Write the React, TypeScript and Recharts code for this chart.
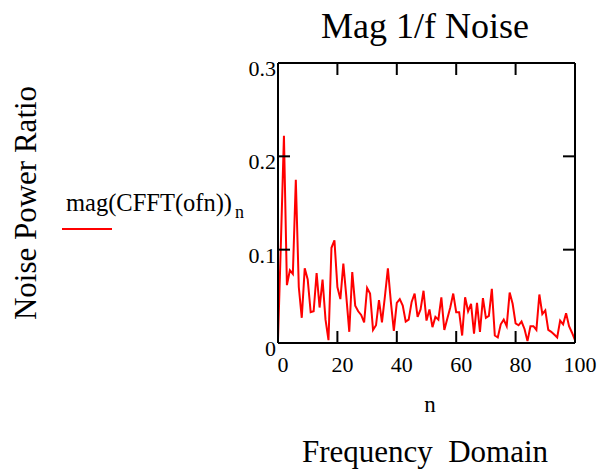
import React from "react";
import { LineChart, Line, XAxis, YAxis } from "recharts";

const values: number[] = [
  0.003, 0.11, 0.222, 0.062, 0.078, 0.074, 0.175, 0.06, 0.027, 0.08,
  0.068, 0.033, 0.034, 0.075, 0.038, 0.068, 0.025, 0.003, 0.102, 0.11,
  0.06, 0.047, 0.085, 0.05, 0.012, 0.076, 0.04, 0.034, 0.03, 0.022,
  0.059, 0.053, 0.014, 0.019, 0.046, 0.022, 0.05, 0.08, 0.044, 0.013,
  0.043, 0.047, 0.04, 0.023, 0.025, 0.044, 0.053, 0.028, 0.036, 0.056,
  0.024, 0.036, 0.017, 0.028, 0.025, 0.049, 0.014, 0.026, 0.038, 0.053,
  0.033, 0.033, 0.008, 0.049, 0.034, 0.042, 0.01, 0.043, 0.012, 0.048,
  0.027, 0.029, 0.058, 0.008, 0.006, 0.02, 0.025, 0.018, 0.054, 0.042,
  0.021, 0.019, 0.023, 0.015, 0.002, 0.018, 0.018, 0.014, 0.052, 0.031,
  0.035, 0.014, 0.012, 0.009, 0.006, 0.024, 0.02, 0.032, 0.018, 0.011,
  0.003,
];

const xTicks = [0, 20, 40, 60, 80, 100];
const xInnerTicks = [20, 40, 60, 80];
const yTicks = [0, 0.1, 0.2, 0.3];
const yInnerTicks = [0.1, 0.2];
const yTickLabels = ["0", "0.1", "0.2", "0.3"];

const title = "Mag 1/f Noise";
const yTitle = "Noise Power Ratio";
const xVarLabel = "n";
const xTitle = "Frequency  Domain";
const legendText = "mag(CFFT(ofn))";
const legendSub = "n";

const data = values.map((v, i) => ({ n: i, v }));

const FONT = "Liberation Serif";
const fs = (size: number) => ({ fontFamily: FONT, fontSize: size });

const Nothing = () => <g />;

const XTick = (props: any) => {
  const { x, y, payload } = props;
  return (
    <text x={x + 5} y={y + 29} textAnchor="middle" style={fs(22)} fill="#000">
      {String(payload.value)}
    </text>
  );
};

const YTick = (props: any) => {
  const { x, y, payload } = props;
  const idx = yTicks.indexOf(payload.value);
  const label = idx >= 0 ? yTickLabels[idx] : String(payload.value);
  return (
    <text x={x - 2} y={y + 13} textAnchor="end" style={fs(22)} fill="#000">
      {label}
    </text>
  );
};

export default function App() {
  const axisLine = { stroke: "#000", strokeWidth: 2 };
  const tickLine = { stroke: "#000", strokeWidth: 2 };
  return (
    <div style={{ position: "absolute", left: 0, top: 0, width: 602, height: 475, background: "#fff", fontFamily: FONT }}>
      <LineChart
        width={602}
        height={475}
        data={data}
        margin={{ top: 63, right: 27, bottom: 102, left: 238 }}
      >
        <XAxis
          xAxisId="b"
          dataKey="n"
          type="number"
          domain={[0, 100]}
          ticks={xTicks}
          interval={0}
          allowDataOverflow
          height={30}
          tickSize={0}
          tickMargin={0}
          tickLine={false}
          axisLine={axisLine}
          tick={<XTick />}
        />
        <XAxis
          xAxisId="bm"
          dataKey="n"
          type="number"
          orientation="bottom"
          mirror
          domain={[0, 100]}
          ticks={xInnerTicks}
          interval={0}
          allowDataOverflow
          height={12}
          tickSize={12}
          tickLine={tickLine}
          axisLine={false}
          tick={<Nothing />}
        />
        <XAxis
          xAxisId="t"
          dataKey="n"
          type="number"
          orientation="top"
          mirror
          domain={[0, 100]}
          ticks={xInnerTicks}
          interval={0}
          allowDataOverflow
          height={12}
          tickSize={12}
          tickLine={tickLine}
          axisLine={axisLine}
          tick={<Nothing />}
        />
        <YAxis
          yAxisId="l"
          type="number"
          domain={[0, 0.3]}
          ticks={yTicks}
          interval={0}
          allowDataOverflow
          width={40}
          tickSize={0}
          tickMargin={0}
          tickLine={false}
          axisLine={axisLine}
          tick={<YTick />}
        />
        <YAxis
          yAxisId="lm"
          type="number"
          orientation="left"
          mirror
          domain={[0, 0.3]}
          ticks={yInnerTicks}
          interval={0}
          allowDataOverflow
          width={12}
          tickSize={12}
          tickLine={tickLine}
          axisLine={false}
          tick={<Nothing />}
        />
        <YAxis
          yAxisId="r"
          type="number"
          orientation="right"
          mirror
          domain={[0, 0.3]}
          ticks={yInnerTicks}
          interval={0}
          allowDataOverflow
          width={12}
          tickSize={12}
          tickLine={tickLine}
          axisLine={axisLine}
          tick={<Nothing />}
        />
        <Line
          xAxisId="b"
          yAxisId="l"
          type="linear"
          dataKey="v"
          stroke="#ff0000"
          strokeWidth={2}
          dot={false}
          activeDot={false}
          isAnimationActive={false}
        />
      </LineChart>
      <svg
        width={602}
        height={475}
        style={{ position: "absolute", left: 0, top: 0, pointerEvents: "none" }}
      >
        <text x={425} y={38} textAnchor="middle" style={fs(36)} fill="#000">
          {title}
        </text>
        <text
          x={0}
          y={0}
          transform="translate(36,203) rotate(-90)"
          textAnchor="middle"
          style={fs(31)}
          fill="#000"
        >
          {yTitle}
        </text>
        <text x={66} y={211} style={fs(24.5)} fill="#000">
          {legendText}
        </text>
        <text x={235} y={218} style={fs(18)} fill="#000">
          {legendSub}
        </text>
        <line x1={62} y1={229} x2={112} y2={229} stroke="#ff0000" strokeWidth={2} />
        <text x={430} y={412} textAnchor="middle" style={fs(23)} fill="#000">
          {xVarLabel}
        </text>
        <text x={425} y={462} textAnchor="middle" style={{ ...fs(31), whiteSpace: "pre" }} fill="#000">
          {xTitle}
        </text>
      </svg>
    </div>
  );
}
